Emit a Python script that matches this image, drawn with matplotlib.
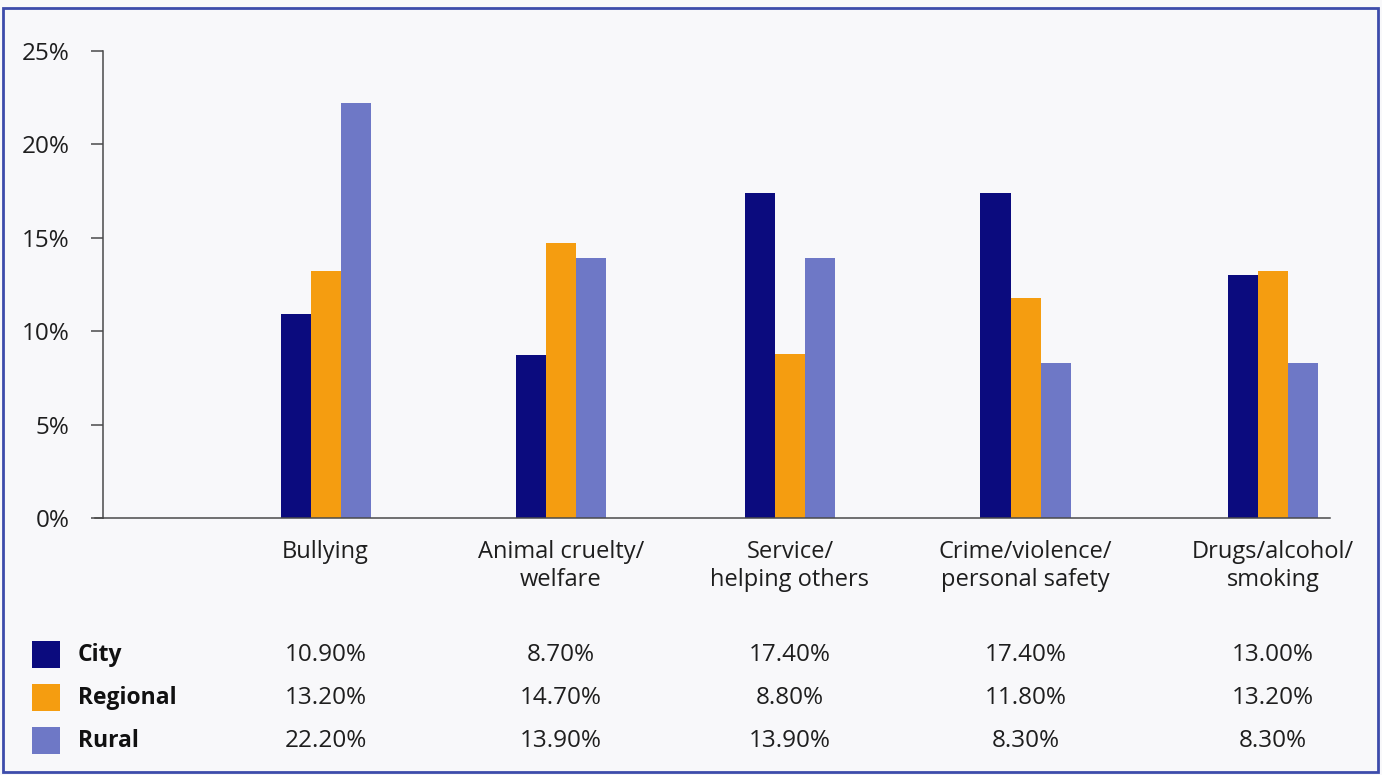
import numpy as np
import matplotlib.pyplot as plt
from matplotlib.patches import Rectangle

plt.rcParams['font.family'] = ['Open Sans', 'DejaVu Sans']

# Data
categories = ["Bullying", "Animal cruelty/\nwelfare", "Service/\nhelping others",
              "Crime/violence/\npersonal safety", "Drugs/alcohol/\nsmoking"]
series_names = ["City", "Regional", "Rural"]
city = [10.9, 8.7, 17.4, 17.4, 13.0]
regional = [13.2, 14.7, 8.8, 11.8, 13.2]
rural = [22.2, 13.9, 13.9, 8.3, 8.3]
yticks = [0, 5, 10, 15, 20, 25]

colors = ["#0b0b7e", "#f59d10", "#6e78c6"]
bg = "#f8f8fa"
axis_col = "#4a4a4a"
text_col = "#1e1e1e"

W, H = 1382, 775
fig = plt.figure(figsize=(W / 100, H / 100), dpi=100, facecolor=bg)


def fx(px):
    return px / W


def fy(py):
    return 1 - py / H


ax = fig.add_axes([fx(103), fy(518), fx(1330) - fx(103), fy(51) - fy(518)])
ax.set_facecolor(bg)

for s in ["top", "right"]:
    ax.spines[s].set_visible(False)
for s in ["left", "bottom"]:
    ax.spines[s].set_color(axis_col)
    ax.spines[s].set_linewidth(1.1)

# group centres (slightly uneven spacing)
x = np.array([1.0, 1.993, 2.96, 3.955, 5.0])
width = 0.127
for i, vals in enumerate([city, regional, rural]):
    ax.bar(x + (i - 1) * width, vals, width, color=colors[i], linewidth=0)

ax.set_xlim(0.06, 5.24)
ax.set_ylim(0, 25)
ax.set_yticks(yticks)
ax.set_yticklabels([f"{t}%" for t in yticks])
ax.tick_params(axis='y', direction='out', length=9, width=1.1, color=axis_col,
               pad=15, labelsize=17.5, labelcolor=text_col)
ax.set_xticks(x)
ax.set_xticklabels(categories, linespacing=1.2)
ax.tick_params(axis='x', length=0, pad=16, labelsize=17, labelcolor=text_col)

# x-axis line runs slightly past the y-axis, like the 0% tick
fig.add_artist(plt.Line2D([fx(95), fx(103)], [fy(518), fy(518)], color=axis_col, lw=1.1))

# Legend-table underneath: swatch, bold name, then one value per group
row_y = [655, 698, 741]
for r, (name, vals) in enumerate(zip(series_names, [city, regional, rural])):
    fig.add_artist(Rectangle((fx(32), fy(row_y[r] + 13)), fx(28), 27 / H,
                             transform=fig.transFigure, color=colors[r], lw=0))
    fig.text(fx(78), fy(row_y[r]), name, fontsize=16.5, fontweight='bold',
             color="#111111", ha='left', va='center')
    for j, v in enumerate(vals):
        px = ax.transData.transform((x[j], 0))[0]
        fig.text(px / W, fy(row_y[r]), f"{v:.2f}%", fontsize=17.5,
                 color=text_col, ha='center', va='center')

# Frame
fig.add_artist(Rectangle((fx(3), fy(772)), fx(1378) - fx(3), fy(8) - fy(772),
                         transform=fig.transFigure, fill=False,
                         edgecolor="#3d4cab", lw=2))

fig.savefig("out.png", dpi=100, facecolor=bg)
